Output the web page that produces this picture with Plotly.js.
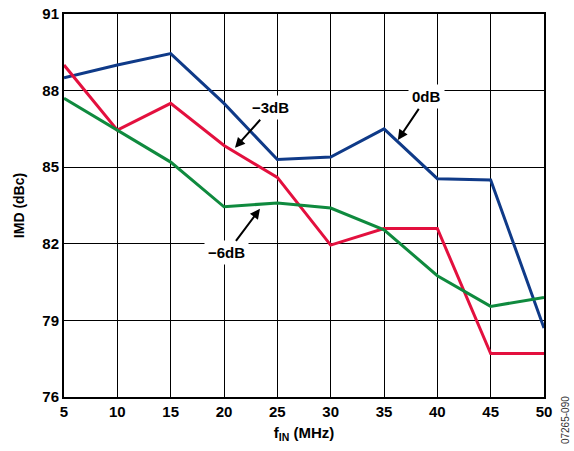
<!DOCTYPE html>
<html>
<head>
<meta charset="utf-8">
<script src="https://cdn.plot.ly/plotly-3.0.1.min.js"></script>
<style>html,body{margin:0;padding:0;background:#fff;}#chart{width:574px;height:451px;}</style>
</head>
<body>
<div id="chart"></div>
<script>
const freqMHz = [5, 10, 15, 20, 25, 30, 35, 40, 45, 50];
const imd0dB  = [88.5, 89.0, 89.45, 87.5, 85.3, 85.4, 86.5, 84.55, 84.5, 78.7];
const imdM3dB = [89.0, 86.45, 87.5, 85.85, 84.6, 81.95, 82.6, 82.6, 77.7, 77.7];
const imdM6dB = [87.7, 86.45, 85.2, 83.45, 83.6, 83.4, 82.55, 80.75, 79.55, 79.9];
const xTicks = [5, 10, 15, 20, 25, 30, 35, 40, 45, 50];
const yTicks = [76, 79, 82, 85, 88, 91];
const seriesNames = ['0dB', '\u22123dB', '\u22126dB'];

const FONT = 'Liberation Sans, Arial, sans-serif';
const traces = [
  {x: freqMHz, y: imd0dB, name: seriesNames[0], mode: 'lines', line: {color: '#0f3a88', width: 3}},
  {x: freqMHz, y: imdM3dB, name: seriesNames[1], mode: 'lines', line: {color: '#e3103e', width: 3}},
  {x: freqMHz, y: imdM6dB, name: seriesNames[2], mode: 'lines', line: {color: '#0f8a3e', width: 3}}
];

const annBase = {
  showarrow: true, arrowhead: 2, arrowsize: 1, arrowwidth: 2, arrowcolor: '#000',
  font: {family: FONT, size: 15, color: '#000', weight: 'bold'},
  bgcolor: '#fff', borderpad: 3, standoff: 0, startstandoff: 0
};

const layout = {
  width: 574, height: 451,
  margin: {l: 64, r: 30, t: 14, b: 54},
  paper_bgcolor: '#fff', plot_bgcolor: '#fff',
  showlegend: false,
  font: {family: FONT, color: '#000'},
  xaxis: {
    range: [5, 50], tickvals: xTicks, ticktext: xTicks.map(String),
    showgrid: true, gridcolor: '#000', gridwidth: 1,
    showline: true, linecolor: '#000', linewidth: 2, mirror: true,
    ticks: '', zeroline: false,
    tickfont: {family: FONT, size: 15, weight: 'bold'},
    title: {text: 'f<sub>IN</sub> (MHz)', font: {family: FONT, size: 15, weight: 'bold'}, standoff: 8}
  },
  yaxis: {
    range: [76, 91], tickvals: yTicks, ticktext: yTicks.map(String),
    showgrid: true, gridcolor: '#000', gridwidth: 1,
    showline: true, linecolor: '#000', linewidth: 2, mirror: true,
    ticks: '', zeroline: false,
    tickfont: {family: FONT, size: 15, weight: 'bold'},
    title: {text: 'IMD (dBc)', font: {family: FONT, size: 14, weight: 'bold'}, standoff: 14}
  },
  annotations: [
    Object.assign({}, annBase, {text: seriesNames[0], x: 36.3, y: 86.07, ax: 29, ay: -43}),
    Object.assign({}, annBase, {text: seriesNames[1], x: 21.03, y: 85.76, ax: 36, ay: -40}),
    Object.assign({}, annBase, {text: seriesNames[2], x: 23.37, y: 83.37, ax: -33, ay: 44}),
    {text: '07265-090', xref: 'paper', yref: 'paper', x: 1.046, y: -0.06, xanchor: 'center', yanchor: 'middle',
     showarrow: false, textangle: -90, font: {family: FONT, size: 10, color: '#333'}}
  ]
};

Plotly.newPlot('chart', traces, layout, {displayModeBar: false, staticPlot: true});
</script>
</body>
</html>
